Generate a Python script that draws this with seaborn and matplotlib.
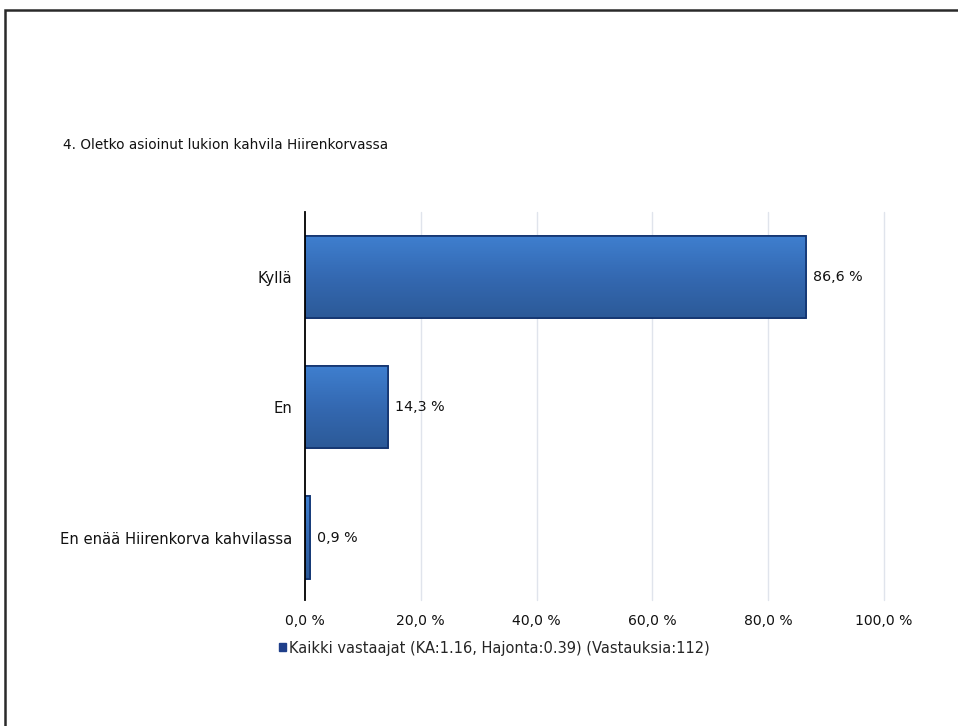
import numpy as np
import pandas as pd
import matplotlib
matplotlib.use("Agg")
import matplotlib.pyplot as plt
import seaborn as sns
from matplotlib.patches import Patch, Rectangle
from matplotlib.colors import LinearSegmentedColormap

# Survey answers and their shares (%)
categories = ["Kyllä", "En", "En enää Hiirenkorva kahvilassa"]
shares = [86.6, 14.3, 0.9]
value_labels = ["86,6 %", "14,3 %", "0,9 %"]
x_ticks = [0, 20, 40, 60, 80, 100]
x_tick_labels = ["0,0 %", "20,0 %", "40,0 %", "60,0 %", "80,0 %", "100,0 %"]
title = "4. Oletko asioinut lukion kahvila Hiirenkorvassa"
legend_label = "Kaikki vastaajat (KA:1.16, Hajonta:0.39) (Vastauksia:112)"

df = pd.DataFrame({"vastaus": categories, "osuus": shares})

sns.set_theme(style="white")
plt.rcParams["font.family"] = ["DejaVu Sans"]

fig = plt.figure(figsize=(9.58, 7.26), dpi=100)
ax = fig.add_axes([305 / 958, 1 - 600 / 726, (884 - 305) / 958, (600 - 212) / 726])

sns.barplot(data=df, x="osuus", y="vastaus", orient="h", ax=ax,
            color="#3670bb", edgecolor="#12336e", linewidth=1.2, width=0.63,
            saturation=1)

# Vertical shading inside each bar: lighter at the top, darker at the bottom
grad = LinearSegmentedColormap.from_list("bar", ["#3f7fcf", "#3469b2", "#2c5a98"])
for p in ax.patches:
    x0, y0 = p.get_x(), p.get_y()
    w, h = p.get_width(), p.get_height()
    im = ax.imshow(np.linspace(0, 1, 64).reshape(-1, 1), cmap=grad, aspect="auto",
                   extent=(x0, x0 + w, y0 + h, y0), origin="upper", zorder=p.get_zorder())
    im.set_clip_path(p)
    ax.add_patch(Rectangle((x0, y0), w, h, fill=False, edgecolor="#12336e",
                           linewidth=1.2, zorder=p.get_zorder() + 0.1))

ax.bar_label(ax.containers[0], labels=value_labels, padding=5, fontsize=10.3,
             color="#111111")

ax.set_xlim(0, 100)
ax.set_ylim(2.48, -0.5)
ax.set_xticks(x_ticks)
ax.set_xticklabels(x_tick_labels)
ax.set_xlabel("")
ax.set_ylabel("")
ax.tick_params(axis="x", length=0, pad=10, labelsize=10.1, labelcolor="#111111")
ax.tick_params(axis="y", length=0, pad=9.5, labelsize=10.6, labelcolor="#111111")

for v in x_ticks[1:]:
    ax.axvline(v, color="#e0e4ec", linewidth=1, zorder=0, clip_on=False)

for side in ["top", "right", "bottom"]:
    ax.spines[side].set_visible(False)
ax.spines["left"].set_color("#000000")
ax.spines["left"].set_linewidth(1.3)

fig.text(63 / 958, 1 - 145 / 726, title, fontsize=9.8, color="#111111",
         ha="left", va="center")

fig.legend(handles=[Patch(facecolor="#1f3f8a", edgecolor="#1f3f8a")],
           labels=[legend_label], loc="center left",
           bbox_to_anchor=(279 / 958, 1 - 648 / 726), frameon=False,
           fontsize=10.5, handlelength=0.5, handleheight=0.5,
           handletextpad=0.2, borderaxespad=0, borderpad=0)

# Page frame
fig.add_artist(Rectangle((5 / 958, -0.05), 1.2, 1.05 - 9.5 / 726,
                         transform=fig.transFigure, fill=False,
                         edgecolor="#2a2a2a", linewidth=1.8))

fig.savefig("out.png", dpi=100)
